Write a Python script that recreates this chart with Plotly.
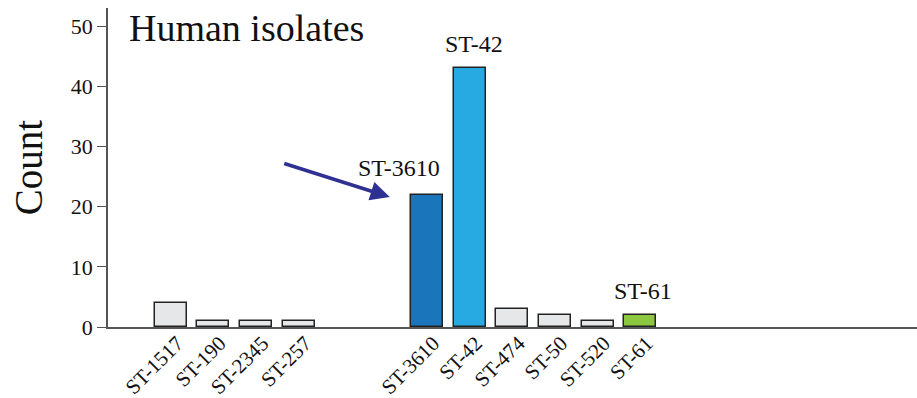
import plotly.graph_objects as go

# Sequence types and isolate counts
categories = ["ST-1517", "ST-190", "ST-2345", "ST-257",
              "ST-3610", "ST-42", "ST-474", "ST-50", "ST-520", "ST-61"]
counts = [4, 1, 1, 1, 22, 43, 3, 2, 1, 2]
# slot positions along the axis (two empty slots between the groups)
slots = [1, 2, 3, 4, 7, 8, 9, 10, 11, 12]
colors = ["#e6e7e8", "#e6e7e8", "#e6e7e8", "#e6e7e8",
          "#1b75bb", "#27aae1", "#e6e7e8", "#e6e7e8", "#e6e7e8", "#8dc63f"]
# highlighted types: label offset along x (in slots) and vertical gap (px)
highlighted = {"ST-3610": (-0.66, 12), "ST-42": (0.1, 9), "ST-61": (0.06, 9)}
# rotated tick labels sit a little to the right of the bar centres
label_shift = 0.15

serif = "Liberation Serif, Times New Roman, serif"

fig = go.Figure()
fig.add_trace(go.Bar(
    x=slots, y=counts, width=0.75,
    marker=dict(color=colors, line=dict(color="#222222", width=1.5)),
    hoverinfo="skip",
))

# Labels above highlighted bars
for cat, x, y in zip(categories, slots, counts):
    if cat in highlighted:
        dx, gap = highlighted[cat]
        fig.add_annotation(x=x + dx, y=y, text=cat, showarrow=False,
                           yanchor="bottom", yshift=gap,
                           font=dict(family=serif, size=24, color="#111111"))

# Arrow pointing at ST-3610
fig.add_annotation(x=6.13, y=21.6, ax=-107, ay=-34, axref="pixel", ayref="pixel",
                   text="", showarrow=True, arrowhead=2, arrowsize=1.1,
                   arrowwidth=3.5, arrowcolor="#2e3192")

fig.add_annotation(xref="paper", yref="paper", x=0.024, y=1.01, xanchor="left",
                   yanchor="top", text="Human isolates", showarrow=False,
                   font=dict(family=serif, size=38, color="#111111"))

fig.update_layout(
    width=917, height=398,
    margin=dict(l=108, r=0, t=8, b=71),
    plot_bgcolor="white", paper_bgcolor="white",
    showlegend=False,
    bargap=0,
    xaxis=dict(range=[-0.47, 18.48],
               tickvals=[s + label_shift for s in slots], ticktext=categories,
               tickangle=-45, showgrid=False, zeroline=False, showline=True,
               linecolor="#555555", linewidth=1.5, ticks="",
               ticklabelstandoff=-6, automargin=False,
               tickfont=dict(family=serif, size=21, color="#111111")),
    yaxis=dict(range=[0, 53], tickvals=[0, 10, 20, 30, 40, 50],
               showgrid=False, zeroline=False, showline=True,
               linecolor="#555555", linewidth=1.5, ticks="outside", ticklen=9,
               tickcolor="#555555", tickwidth=1.2, automargin=False,
               tickfont=dict(family=serif, size=22, color="#111111"),
               title=dict(text="Count", standoff=16,
                          font=dict(family=serif, size=39, color="#111111"))),
)

fig.write_html("out.html")
